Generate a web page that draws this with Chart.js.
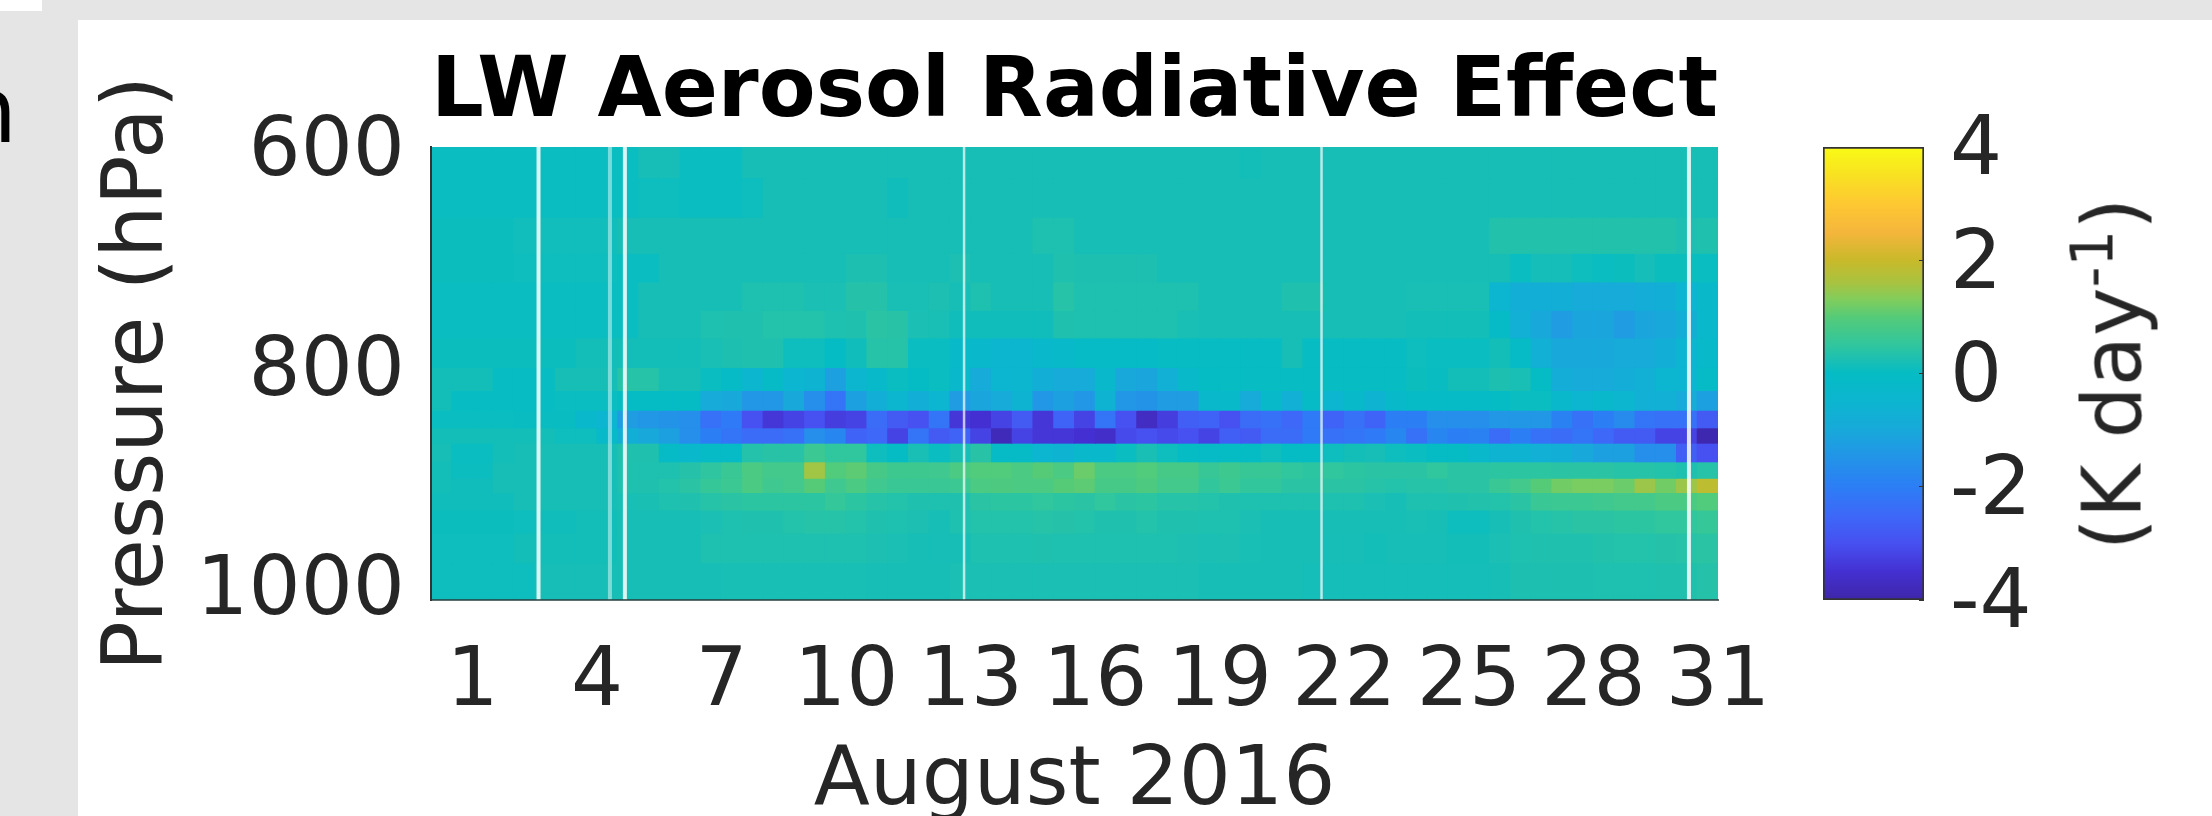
<!DOCTYPE html>
<html>
<head>
<meta charset="utf-8">
<title>LW Aerosol Radiative Effect</title>
<script src="https://cdn.jsdelivr.net/npm/chart.js@4"></script>
<style>
    html, body { margin: 0; padding: 0; width: 2212px; height: 816px; overflow: hidden; background: #e5e5e5; }
    #panel { position: absolute; left: 78px; top: 20px; width: 2134px; height: 796px; background: #fff; }
    #corner { position: absolute; left: 0; top: 0; width: 42px; height: 11px; background: #fff; }
    #cutoff { position: absolute; left: -40px; top: 63px; font: 90px "DejaVu Sans"; line-height: 96px; color: #000; }
    #mainBox { position: absolute; left: 78px; top: 20px; width: 1994px; height: 796px; }
    #barBox { position: absolute; left: 1780px; top: 20px; width: 432px; height: 796px; }
    #barTitle { position: absolute; left: 2112px; top: 374px; transform: translate(-50%, -50%) rotate(-90deg);
        font: 82px "DejaVu Sans"; color: #262626; white-space: nowrap; }
    #barTitle sup { font-size: 58px; line-height: 0; }
    canvas { filter: blur(0.7px); }
</style>
</head>
<body>
<div id="panel"></div>
<div id="corner"></div>
<div id="cutoff">n</div>
<div id="mainBox"><canvas id="heatChart"></canvas></div>
<div id="barBox"><canvas id="barChart"></canvas></div>
<div id="barTitle">(K day<sup>-1</sup>)</div>

<script>
// Tick labels
const dayTicks = [1, 4, 7, 10, 13, 16, 19, 22, 25, 28, 31];
const pressureTicks = [600, 800, 1000];
const colorTicks = [-4, -2, 0, 2, 4];

// Edges of the pressure cells (hPa), top to bottom
const pressureEdges = [600, 628, 664, 697, 723, 749, 774, 801, 822, 840, 856, 870, 887, 902, 915, 931, 952, 979, 1013];

// Half day columns, K/day, one array per pressure cell
const row600 = [.05,.05,.05,.05,.05,.05,.05,.05,.05,.05,
    .18,.18,.05,.05,.05,.2,.2,.2,.2,.2,
    .2,.2,.2,.2,.2,.2,.2,.2,.2,.2,
    .2,.2,.2,.2,.2,.2,.2,.2,.2,.15,
    .2,.2,.2,.2,.2,.2,.2,.2,.2,.2,
    .2,.2,.2,.2,.2,.2,.2,.2,.2,.2,
    .2,.2];
const row628 = [.05,.05,.05,.05,.05,.05,.05,.05,.05,.05,
    .1,.1,.05,.05,.05,.1,.2,.2,.2,.2,
    .2,.2,.12,.2,.2,.2,.2,.2,.2,.2,
    .2,.2,.2,.2,.2,.2,.2,.2,.2,.2,
    .2,.2,.2,.2,.2,.2,.2,.2,.2,.2,
    .2,.2,.2,.2,.2,.2,.2,.2,.2,.2,
    .2,.2];
const row664 = [.08,.08,.08,.08,.13,.13,.13,.13,.13,.2,
    .2,.2,.2,.2,.2,.2,.2,.2,.2,.2,
    .2,.2,.2,.2,.2,.2,.2,.2,.2,.28,
    .28,.2,.2,.2,.2,.2,.2,.2,.2,.2,
    .2,.2,.2,.2,.2,.2,.2,.2,.2,.2,
    .2,.33,.33,.33,.33,.33,.33,.33,.33,.33,
    .25,.3];
const row697 = [.08,.08,.08,.08,.1,.1,.1,.1,.1,.05,
    .05,.2,.2,.2,.2,.2,.2,.2,.2,.2,
    .26,.26,.2,.2,.2,.25,.2,.2,.2,.2,
    .3,.26,.26,.26,.26,.2,.2,.2,.2,.2,
    .2,.2,.2,.2,.2,.2,.2,.2,.2,.2,
    .2,.2,.05,.17,.17,.1,.05,.08,.17,.08,
    .08,.05];
const row723 = [.05,.05,.05,.05,.05,.05,.05,.05,.05,.05,
    .2,.2,.2,.2,.2,.27,.27,.27,.24,.24,
    .36,.36,.22,.22,.25,.2,.27,.2,.2,.2,
    .38,.27,.27,.27,.27,.27,.27,.2,.2,.2,
    .2,.3,.3,.2,.2,.2,.2,.22,.22,.22,
    .22,-.5,-.8,-.8,-.8,-.9,-.9,-.9,-.85,-.8,
    -.5,-.25];
const row749 = [.05,.05,.05,.05,.05,.05,.05,.05,.05,.05,
    .2,.2,.2,.27,.3,.3,.34,.34,.34,.27,
    .3,.42,.4,.24,.22,.12,.12,.12,.12,.12,
    .3,.27,.27,.27,.27,.27,.22,.2,.2,.2,
    .2,.2,.2,.2,.2,.2,.2,.15,.15,.15,
    .15,-.1,-.7,-1,-1.3,-1.1,-1.1,-1.3,-1.1,-1,
    -.8,-.3];
const row774 = [.08,.08,.08,.08,.08,.08,.08,.15,.15,.15,
    .15,.15,.15,.22,.26,.3,.3,.1,.1,0,
    .12,.38,.38,.05,.05,-.2,-.3,-.4,-.4,-.3,
    -.2,-.1,-.1,-.1,-.1,.02,.02,.02,.02,.02,
    .02,.2,.02,.02,.02,.02,.02,.1,.05,.05,
    .05,.15,-.1,-.7,-1,-1,-1,-.9,-.9,-.8,
    -.5,-.2];
const row801 = [.15,.15,.15,.02,.02,.02,.2,.2,.2,.38,
    .38,.2,.2,.05,-.1,-.4,-.1,-.5,-.6,-1.2,
    -.4,-.2,.05,0,.05,-.3,-.9,-.5,-.4,-.8,
    -.9,-.9,-.3,-1,-1.1,-.7,-.2,0,.02,.02,
    .02,.02,.02,.02,.02,.02,.02,.08,.03,.15,
    .15,.26,.22,0,-.85,-.9,-.9,-.85,-.7,-.5,
    -.5,-.1];
const row822 = [.15,.02,.02,.02,.02,.02,.05,.05,.05,-.02,
    -.02,-.02,-.02,-.9,-1,-1.4,-1.4,-1,-1.6,-2.2,
    -1.2,-.8,-.4,-.8,-.5,-1.3,-1.1,-.9,-.6,-1.4,
    -1.2,-1.4,-.6,-1.4,-1.5,-1.3,-1.3,-.3,-.2,-.9,
    -.2,-.7,-.1,-.5,-.2,-.6,-.2,-.05,-.05,-.05,
    -.05,0,.05,.05,-.3,-.5,-.3,-.4,-.7,-.7,
    -.9,-1.2];
const row840 = [.05,.05,.05,.05,.03,.03,.03,-.3,-.5,-1.3,
    -1.4,-1.5,-1.6,-2.3,-2.1,-3,-3.4,-3.2,-3,-3.3,
    -3.2,-2.4,-2.8,-3,-2.2,-3.4,-3.5,-3.2,-2.8,-3.4,
    -2.6,-3.2,-2.2,-3,-3.7,-3.3,-2.7,-2.6,-3,-2.4,
    -2.3,-2.5,-2.1,-2.6,-2.3,-2.6,-2,-2,-1.6,-1.6,
    -1.6,-1.4,-1.4,-1.4,-1.9,-2.3,-2,-1.7,-2.2,-2.3,
    -2.3,-2.8];
const row856 = [.15,.15,.15,.15,.15,.15,.1,.1,-.2,-.8,
    -1,-1.2,-1.6,-2,-2.2,-2.4,-2.4,-2.3,-1.6,-1.8,
    -2.6,-2.5,-3.2,-2.2,-2.8,-2.6,-3.2,-3.8,-3.2,-3.4,
    -3.4,-3.5,-3.6,-3.1,-3,-3.1,-3,-3.2,-2.7,-2.8,
    -2.4,-2.4,-2.1,-2.3,-2.2,-2.1,-1.8,-2.3,-1.8,-2,
    -1.9,-2.4,-2,-2.3,-2.4,-2.2,-2.5,-2.8,-2.8,-3.2,
    -3.2,-3.9];
const row870 = [.2,.05,.05,.15,.2,.2,.2,.2,.2,.3,
    .3,-.05,-.3,-.1,-.05,.35,.4,.4,.65,.5,
    .5,.1,0,.22,.05,.2,.4,-.1,-.1,-.5,
    -.6,-.3,-.3,.05,.22,.1,0,-.1,0,0,
    .1,0,0,.1,.15,.18,.1,.05,0,0,
    -.3,-.6,-.6,-.7,-.8,-1,-1.2,-1.2,-1.6,-1.6,
    -2.7,-3];
const row887 = [.15,.07,.07,.2,.2,.2,.2,.2,.2,.27,
    .27,.27,.36,.48,.62,.85,.75,.75,1.55,.95,
    1.05,.8,.68,.68,.7,.85,.95,.95,.85,1,
    .85,1.15,.85,.85,.95,.8,.8,.6,.68,.6,
    .6,.5,.45,.5,.45,.42,.42,.42,.5,.42,
    .42,.45,.45,.45,.42,.42,.42,.38,.38,.34,
    .27,.38];
const row902 = [.15,.12,.12,.2,.2,.2,.2,.2,.2,.27,
    .3,.34,.42,.58,.65,.85,.7,.75,1,.7,
    .85,.7,.62,.62,.62,.66,.85,.9,.85,.85,
    1,1.05,.8,.8,.9,.75,.75,.52,.66,.52,
    .52,.42,.42,.42,.42,.38,.34,.38,.38,.42,
    .42,.62,.75,1,1.2,1.25,1.25,1.15,1.5,1.2,
    1.5,1.85];
const row915 = [.12,.12,.12,.12,.2,.2,.2,.2,.2,.21,
    .23,.27,.3,.38,.42,.45,.45,.45,.45,.55,
    .45,.38,.34,.3,.27,.3,.42,.45,.45,.5,
    .45,.42,.5,.42,.45,.38,.38,.34,.3,.27,
    .27,.27,.27,.27,.27,.24,.2,.27,.28,.3,
    .32,.34,.42,.62,.65,.65,.7,.75,.75,.85,
    .85,.95];
const row931 = [.08,.08,.08,.08,.1,.12,.12,.15,.15,.2,
    .2,.2,.2,.24,.27,.3,.3,.34,.38,.38,
    .34,.3,.27,.25,.2,.27,.34,.34,.34,.38,
    .36,.34,.3,.3,.34,.3,.3,.27,.27,.24,
    .2,.2,.2,.2,.2,.2,.2,.22,.2,.1,
    .1,.2,.3,.34,.38,.42,.42,.45,.45,.5,
    .5,.58];
const row952 = [.1,.1,.1,.1,.15,.15,.15,.15,.15,.2,
    .2,.2,.2,.27,.27,.27,.27,.27,.27,.27,
    .27,.25,.24,.2,.18,.2,.27,.28,.28,.3,
    .28,.28,.28,.27,.27,.27,.25,.24,.25,.21,
    .2,.2,.2,.18,.18,.15,.18,.18,.18,.15,
    .15,.24,.27,.3,.3,.3,.32,.34,.34,.36,
    .38,.42];
const row979 = [.1,.1,.1,.1,.1,.18,.18,.18,.18,.2,
    .2,.2,.2,.2,.21,.21,.21,.21,.21,.21,
    .21,.2,.2,.2,.2,.24,.24,.24,.24,.24,
    .24,.24,.24,.24,.24,.24,.24,.2,.2,.2,
    .2,.2,.17,.17,.17,.17,.17,.17,.17,.17,
    .17,.2,.26,.26,.26,.26,.28,.28,.28,.3,
    .3,.36];

const allRows = [row600, row628, row664, row697, row723, row749, row774, row801, row822,
    row840, row856, row870, row887, row902, row915, row931, row952, row979];

// Missing data stripes, in days
const gapsStrong = [2.59, 4.67, 30.3];
const gapsFaint = [4.31];
const gapsThin = [12.84, 21.45];

// Colormap of the figure: value, colour
const colorStops = [
    [-4, '#3e26a8'], [-3.5, '#4430d2'], [-3, '#4750f0'], [-2.5, '#3d68f8'], [-2, '#2c7ef5'],
    [-1.5, '#2393e8'], [-1, '#18a9da'], [-0.5, '#0cb5d0'], [0, '#05bcc4'], [0.25, '#1cbfb2'],
    [0.5, '#30c69e'], [1, '#55cb78'], [1.3, '#80cd5c'], [1.6, '#a8c340'], [2, '#c9b92a'],
    [2.5, '#f5b63c'], [3, '#fec832'], [3.5, '#f8e122'], [4, '#f9fb15']
];

function hexToRgb(hex) {
    return [1, 3, 5].map(i => parseInt(hex.substr(i, 2), 16));
}

// Colour for one cell value
function colorFor(v) {
    for (let i = 1; i < colorStops.length; i++) {
        if (v <= colorStops[i][0]) {
            const a = colorStops[i - 1], b = colorStops[i];
            const t = Math.max(0, (v - a[0]) / (b[0] - a[0]));
            const ca = hexToRgb(a[1]), cb = hexToRgb(b[1]);
            return 'rgb(' + ca.map((c, k) => Math.round(c + (cb[k] - c) * t)).join(',') + ')';
        }
    }
    return colorStops[colorStops.length - 1][1];
}

const textColor = '#262626';
const tickFont = { family: 'DejaVu Sans', size: 82 };

// One floating bar dataset per pressure cell
const cellDatasets = allRows.map(function(row, r) {
    return {
        type: 'bar',
        data: row.map((v, i) => ({ x: (i + 0.5) / 2, y: [pressureEdges[r], pressureEdges[r + 1]], v: v })),
        backgroundColor: ctx => colorFor(ctx.raw.v),
        grouped: false,
        barPercentage: 1,
        categoryPercentage: 1,
        borderWidth: 0,
        inflateAmount: 0.5
    };
});

// Stripes go over the cells as broken vertical lines
function gapLine(days, color, width) {
    const pts = [];
    days.forEach(function(d) {
        pts.push({ x: d, y: 600 }, { x: d, y: 1013 }, { x: d, y: null });
    });
    return { type: 'line', data: pts, borderColor: color, borderWidth: width, pointRadius: 0, spanGaps: false, order: -1 };
}

new Chart(document.getElementById('heatChart'), {
    type: 'bar',
    data: {
        datasets: cellDatasets.concat([
            gapLine(gapsStrong, 'rgba(255,255,255,0.85)', 4),
            gapLine(gapsFaint, 'rgba(255,255,255,0.45)', 4),
            gapLine(gapsThin, 'rgba(255,255,255,0.7)', 2.5)
        ])
    },
    options: {
        responsive: true,
        maintainAspectRatio: false,
        animation: false,
        layout: { padding: { top: 25, right: 354 } },
        plugins: {
            legend: { display: false },
            tooltip: { enabled: false },
            title: {
                display: true,
                fullSize: false,
                text: 'LW Aerosol Radiative Effect',
                color: '#000',
                font: { family: 'DejaVu Sans', size: 83, weight: 'bold' },
                padding: { top: 0, bottom: 2.4 }
            }
        },
        scales: {
            x: {
                type: 'linear',
                offset: false,
                min: 0,
                max: 31,
                afterBuildTicks: s => { s.ticks = dayTicks.map(v => ({ value: v })); },
                afterFit: s => { s.height = 216; },
                ticks: { color: textColor, font: tickFont, padding: 35, maxRotation: 0, autoSkip: false },
                grid: { display: false, drawTicks: false },
                border: { display: true, color: 'rgba(40,60,60,0.75)', width: 2, z: 1 },
                title: {
                    display: true,
                    text: 'August 2016',
                    color: textColor,
                    font: { family: 'DejaVu Sans', size: 82, lineHeight: 0.8 },
                    padding: 0
                }
            },
            y: {
                type: 'linear',
                reverse: true,
                min: 600,
                max: 1013,
                afterBuildTicks: s => { s.ticks = pressureTicks.map(v => ({ value: v })); },
                afterFit: s => { s.width = 353; },
                ticks: { color: textColor, font: tickFont, padding: 26, labelOffset: 7, callback: v => String(v) },
                grid: { display: false, drawTicks: false },
                border: { display: true, color: '#333', width: 2, z: 1 },
                title: {
                    display: true,
                    text: 'Pressure (hPa)',
                    color: textColor,
                    font: { family: 'DejaVu Sans', size: 83, lineHeight: 1 },
                    padding: { top: 21, bottom: 0 }
                }
            }
        }
    }
});

// Colour bar
new Chart(document.getElementById('barChart'), {
    type: 'bar',
    data: {
        labels: [''],
        datasets: [{
            data: [[colorTicks[0], colorTicks[colorTicks.length - 1]]],
            barPercentage: 1,
            categoryPercentage: 1,
            borderWidth: 2,
            borderColor: '#333',
            borderSkipped: false,
            backgroundColor: function(ctx) {
                const area = ctx.chart.chartArea;
                if (!area) return '#000';
                const g = ctx.chart.ctx.createLinearGradient(0, area.bottom, 0, area.top);
                colorStops.forEach(s => g.addColorStop((s[0] + 4) / 8, s[1]));
                return g;
            }
        }]
    },
    options: {
        responsive: true,
        maintainAspectRatio: false,
        animation: false,
        layout: { padding: { left: 43, top: 127, bottom: 216, right: 138 } },
        plugins: { legend: { display: false }, tooltip: { enabled: false } },
        scales: {
            x: { display: false },
            y: {
                position: 'right',
                min: -4,
                max: 4,
                afterBuildTicks: s => { s.ticks = colorTicks.map(v => ({ value: v })); },
                afterFit: s => { s.width = 150; },
                ticks: { color: textColor, font: tickFont, padding: 31, labelOffset: 6 },
                grid: { display: true, drawOnChartArea: false, drawTicks: true, tickLength: -5, tickColor: '#333', z: 1 },
                border: { display: false }
            }
        }
    }
});
</script>
</body>
</html>
